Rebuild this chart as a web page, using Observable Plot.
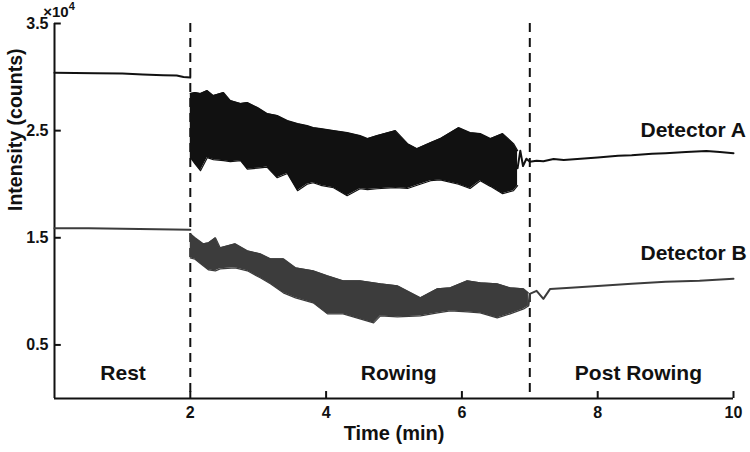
<!DOCTYPE html>
<html>
<head>
<meta charset="utf-8">
<script src="https://cdn.jsdelivr.net/npm/d3@7"></script>
<script src="https://cdn.jsdelivr.net/npm/@observablehq/plot@0.6"></script>
<style>
  html, body { margin: 0; padding: 0; background: #fff; }
  #chart { width: 750px; height: 452px; }
  svg { font-family: "Liberation Sans", Arial, sans-serif; }
  g[aria-label="x-axis tick label"], g[aria-label="y-axis tick label"],
  g[aria-label="x-axis tick label"] text, g[aria-label="y-axis tick label"] text {
    font-size: 16px; font-weight: bold; fill: #111;
  }
</style>
</head>
<body>
<div id="chart"></div>
<script>
// ---- data (time in minutes, intensity in counts) ----
const xTicks = [2, 4, 6, 8, 10];
const yTicks = [5000, 15000, 25000, 35000];
const phaseBounds = [2, 7];
const phaseLabels = ["Rest", "Rowing", "Post Rowing"];
const phaseCenters = [1.01, 5.07, 8.6];

// Detector A
const aRestT = [0, 0.3, 0.6, 1.0, 1.3, 1.6, 1.8, 1.9, 2.0];
const aRestV = [30400, 30380, 30360, 30330, 30250, 30180, 30150, 30000, 29950];
const aRowT  = [2.00, 2.07, 2.15, 2.25, 2.34, 2.49, 2.59, 2.74, 2.84, 2.99, 3.13, 3.28, 3.43, 3.58, 3.72, 3.81, 3.92, 4.11, 4.31, 4.50, 4.61, 4.75, 5.02, 5.20, 5.34, 5.54, 5.68, 5.95, 6.12, 6.27, 6.42, 6.60, 6.76, 6.82];
const aRowHi = [28458, 28551, 28458, 28738, 28271, 28551, 27804, 27523, 27617, 27150, 26589, 26402, 25935, 25654, 25467, 25280, 25187, 25000, 24813, 24533, 24252, 24533, 25000, 23785, 23318, 23879, 24252, 25280, 24813, 24720, 24252, 24720, 23785, 23131];
const aRowLo = [22500, 21900, 21262, 22477, 22300, 22196, 22100, 22196, 21400, 21500, 21600, 20607, 21000, 19393, 20000, 20140, 19900, 19673, 18925, 19579, 19500, 19579, 19673, 19600, 19900, 20327, 20400, 20000, 19600, 20327, 19800, 19112, 19393, 19860];
const aPostT = [6.82, 6.86, 6.9, 6.95, 7.0, 7.1, 7.2, 7.35, 7.5, 7.8, 8.0, 8.3, 8.5, 8.8, 9.0, 9.3, 9.6, 9.8, 10.0];
const aPostV = [21500, 23130, 21700, 22380, 22100, 22200, 22150, 22350, 22250, 22400, 22500, 22650, 22700, 22850, 22900, 23000, 23100, 23000, 22900];

// Detector B
const bRestT = [0, 0.5, 1.0, 1.5, 2.0];
const bRestV = [15900, 15880, 15850, 15800, 15750];
const bRowT  = [2.00, 2.07, 2.19, 2.27, 2.37, 2.44, 2.66, 2.84, 3.03, 3.18, 3.37, 3.55, 3.81, 4.02, 4.25, 4.50, 4.70, 4.80, 5.05, 5.39, 5.64, 5.83, 6.08, 6.27, 6.52, 6.71, 6.91, 6.98];
const bRowHi = [15374, 15000, 14439, 14533, 15000, 14065, 14439, 13785, 13505, 13037, 13037, 12196, 11916, 11449, 10981, 10981, 10794, 10701, 10514, 9393, 10234, 10327, 10981, 10794, 10701, 10327, 10234, 9860];
const bRowLo = [13131, 13000, 12383, 12000, 11916, 12100, 12196, 11916, 11262, 10700, 9860, 9393, 8925, 7897, 7897, 7430, 7056, 7710, 7617, 7710, 7991, 8178, 8084, 7991, 7523, 7897, 8364, 8645];
const bPostT = [6.98, 7.0, 7.1, 7.2, 7.3, 7.6, 8.0, 8.5, 9.0, 9.5, 10.0];
const bPostV = [8700, 9770, 10050, 9300, 10230, 10330, 10510, 10700, 10890, 10980, 11170];

const seriesLabels = [
  {name: "Detector A", t: 8.63, v: 25000},
  {name: "Detector B", t: 8.63, v: 13600}
];
const xLabel = "Time (min)";
const yLabel = "Intensity (counts)";

// ---- build tables ----
const line = (T, V) => T.map((t, i) => ({t, v: V[i]}));
const band = (T, H, L) => T.map((t, i) => ({t, hi: H[i], lo: L[i]}));
const aRest = line(aRestT, aRestV), aPost = line(aPostT, aPostV);
const bRest = line(bRestT, bRestV), bPost = line(bPostT, bPostV);
const aRow = band(aRowT, aRowHi, aRowLo), bRow = band(bRowT, bRowHi, bRowLo);
const phases = phaseLabels.map((name, i) => ({name, t: phaseCenters[i]}));

const cA = "#111111", cB = "#3c3c3c";
const font = "Liberation Sans, Arial, sans-serif";

const chart = Plot.plot({
  width: 750,
  height: 452,
  marginLeft: 54,
  marginRight: 17,
  marginTop: 23,
  marginBottom: 54,
  style: {fontFamily: font, background: "#fff", overflow: "visible"},
  x: {domain: [0, 10]},
  y: {domain: [0, 35000]},
  marks: [
    // axes
    Plot.axisX({ticks: xTicks, tickSize: 0, tickPadding: 8, label: null}),
    Plot.axisY({ticks: yTicks, tickSize: 0, tickPadding: 6, label: null,
                tickFormat: d => (d / 1e4).toFixed(1)}),
    Plot.text([xLabel], {frameAnchor: "bottom", dy: 41, text: d => d, fontSize: 20, fontWeight: "bold", fill: "#111"}),
    Plot.text([yLabel], {frameAnchor: "left", dx: -39, rotate: -90, text: d => d, fontSize: 19.5, fontWeight: "bold", fill: "#111"}),
    Plot.ruleX([0], {stroke: "#111", strokeWidth: 2}),
    Plot.ruleY([0], {stroke: "#111", strokeWidth: 2}),
    Plot.ruleX(xTicks, {x: d => d, y1: 0, y2: 650, stroke: "#111", strokeWidth: 2}),
    Plot.ruleY(yTicks, {y: d => d, x1: 0, x2: 0.1, stroke: "#111", strokeWidth: 2}),
    // phase boundaries
    Plot.ruleX(phaseBounds, {x: d => d, stroke: "#111", strokeWidth: 2, strokeDasharray: "9,6"}),
    // Detector A
    Plot.line(aRest, {x: "t", y: "v", stroke: cA, strokeWidth: 2}),
    Plot.areaY(aRow, {x: "t", y1: "lo", y2: "hi", fill: cA}),
    Plot.line(aRow, {x: "t", y: "hi", stroke: cA, strokeWidth: 1.2}),
    Plot.line(aRow, {x: "t", y: "lo", stroke: cA, strokeWidth: 1.2}),
    Plot.line(aPost, {x: "t", y: "v", stroke: cA, strokeWidth: 2}),
    // Detector B
    Plot.line(bRest, {x: "t", y: "v", stroke: cB, strokeWidth: 2}),
    Plot.areaY(bRow, {x: "t", y1: "lo", y2: "hi", fill: cB}),
    Plot.line(bRow, {x: "t", y: "hi", stroke: cB, strokeWidth: 1.2}),
    Plot.line(bRow, {x: "t", y: "lo", stroke: cB, strokeWidth: 1.2}),
    Plot.line(bPost, {x: "t", y: "v", stroke: cB, strokeWidth: 2}),
    // labels
    Plot.text(phases, {x: "t", y: 2400, text: "name", fontSize: 21, fontWeight: "bold", fill: "#111"}),
    Plot.text(seriesLabels, {x: "t", y: "v", text: "name", textAnchor: "start", fontSize: 21, fontWeight: "bold", fill: "#111"})
  ]
});

// exponent label
const ex = d3.select(chart).append("text")
  .attr("x", 59).attr("y", 17)
  .attr("font-family", font).attr("font-size", 15).attr("font-weight", "bold").attr("fill", "#111");
ex.append("tspan").text("×10");
ex.append("tspan").attr("font-size", 11).attr("dy", -7).text("4");

document.getElementById("chart").appendChild(chart);
</script>
</body>
</html>
